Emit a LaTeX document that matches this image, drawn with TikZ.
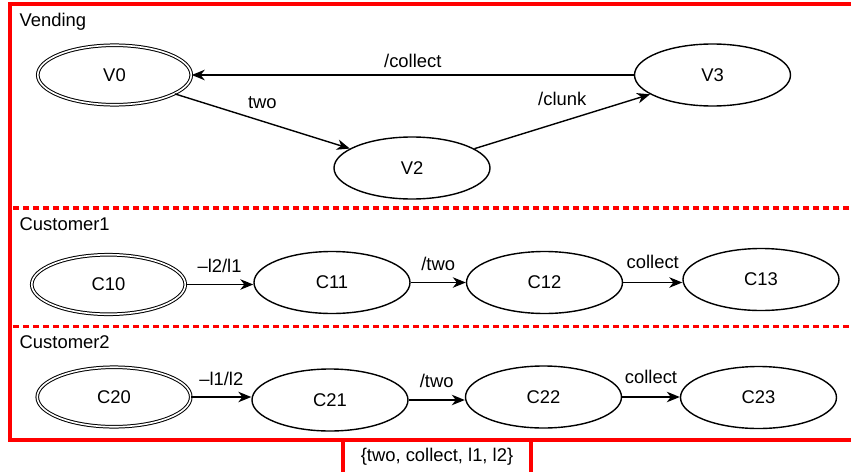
\documentclass[tikz,border=0pt]{standalone}
\usepackage{fontspec}
\setmainfont{Liberation Sans}
\usetikzlibrary{shapes.geometric,arrows.meta}
\begin{document}
\begin{tikzpicture}[x=1pt,y=-1pt,
  every node/.style={font=\fontsize{18.4}{21}\selectfont},
  plainstate/.style={draw, ellipse, line width=1.4pt, minimum width=156pt, minimum height=62pt, inner sep=0pt},
  startstate/.style={draw, ellipse, double, line width=1pt, double distance=1.6pt, minimum width=153.5pt, minimum height=59.5pt, inner sep=0pt},
  arr/.style={line width=1.4pt, -{Stealth[length=13pt,width=10.5pt,inset=4pt]}},
  lbl/.style={midway, anchor=base, yshift=#1, inner sep=0pt},
  outerframe/.style={red, line width=3.5pt},
  divider/.style={red, line width=3.5pt, dash pattern=on 6pt off 4pt},
  sectitle/.style={anchor=base west, inner sep=0pt}]
\useasboundingbox (0,0) rectangle (851,471);

% composition frame and the dividers between the three machines
\draw[outerframe] (860,4) -- (10,4) -- (10,440) -- (860,440);
\draw[divider] (13,208) -- (860,208);
\draw[divider] (13,326.5) -- (860,326.5);

% shared alphabet tab under the frame
\draw[outerframe] (343,440) -- (343,475);
\draw[outerframe] (531,440) -- (531,475);
\node[anchor=base, inner sep=0pt] (alphabet) at (437,461) {\{two, collect, l1, l2\}};

% section titles
\node[sectitle] (tVending) at (19.5,26) {Vending};
\node[sectitle] (tCust1) at (19.5,230) {Customer1};
\node[sectitle] (tCust2) at (19.5,348) {Customer2};

% Vending machine
\node[startstate] (V0) at (114.5,75) {V0};
\node[plainstate] (V3) at (712.5,75) {V3};
\node[plainstate] (V2) at (412,168) {V2};
\draw[arr] (V3) -- (V0) node[lbl=8pt] {/collect};
\draw[arr] (V0) -- (V2) node[lbl=13pt] {two};
\draw[arr] (V2) -- (V3) node[lbl=16pt] {/clunk};

% Customer1
\node[startstate] (C10) at (108.5,284.5) {C10};
\node[plainstate] (C11) at (332,282.5) {C11};
\node[plainstate] (C12) at (544.5,282.5) {C12};
\node[plainstate] (C13) at (761,279.5) {C13};
\draw[arr] (C10) -- (C10 -| C11.west) node[lbl=12pt] {\textendash l2/l1};
\draw[arr] (C11) -- (C11 -| C12.west) node[lbl=12pt] {/two};
\draw[arr] (C12) -- (C12 -| C13.west) node[lbl=14pt] {collect};

% Customer2
\node[startstate] (C20) at (114,397) {C20};
\node[plainstate] (C21) at (330,400) {C21};
\node[plainstate] (C22) at (543.5,397) {C22};
\node[plainstate] (C23) at (758.5,397.5) {C23};
\draw[arr] (C20) -- (C20 -| C21.west) node[lbl=12pt] {\textendash l1/l2};
\draw[arr] (C21) -- (C21 -| C22.west) node[lbl=13pt] {/two};
\draw[arr] (C22) -- (C22 -| C23.west) node[lbl=14pt] {collect};
\end{tikzpicture}
\end{document}
